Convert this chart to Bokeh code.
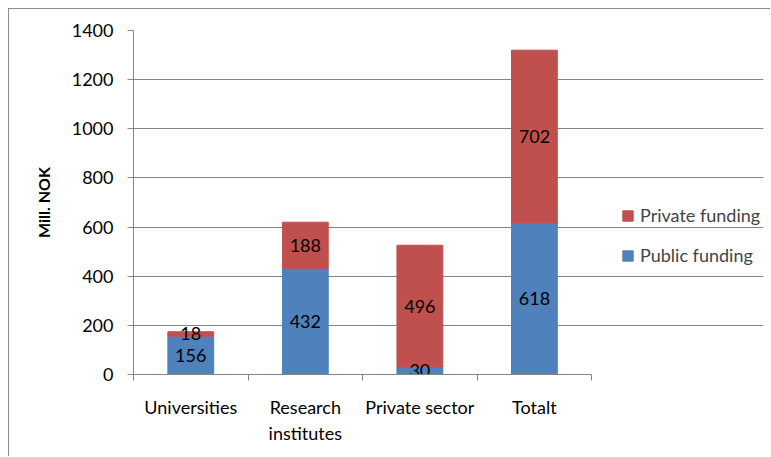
from bokeh.plotting import figure
from bokeh.models import (ColumnDataSource, Range1d, LinearAxis,
                          FixedTicker, Legend, LegendItem)
from bokeh.core.properties import value
from bokeh.embed import file_html
from bokeh.resources import INLINE

categories = ["Universities", "Research\ninstitutes", "Private sector", "Totalt"]
public_funding = [156, 432, 30, 618]
private_funding = [18, 188, 496, 702]
y_ticks = [0, 200, 400, 600, 800, 1000, 1200, 1400]
series_names = ["Public funding", "Private funding"]
colors = ["#4F81BD", "#C0504D"]

FONT = "Lato"
FS = "18px"
GRAY = "#868686"

n = len(categories)
centers = [i + 0.5 for i in range(n)]
view_end = n + 1.5  # extra room on the right of the plot area for the legend

src = ColumnDataSource(dict(
    x=centers,
    pub=public_funding,
    priv=private_funding,
    pub_mid=[v / 2 for v in public_funding],
    priv_mid=[a + b / 2 for a, b in zip(public_funding, private_funding)],
    pub_lbl=[str(v) for v in public_funding],
    priv_lbl=[str(v) for v in private_funding],
))

p = figure(width=762, height=448,
           x_range=Range1d(0, view_end), y_range=Range1d(0, 1400),
           output_backend="svg", toolbar_location=None,
           x_axis_location=None,
           min_border_left=124, min_border_right=8,
           min_border_top=21, min_border_bottom=83)
p.styles = {"border-left": "1px solid #8c8c8c", "border-top": "1px solid #8c8c8c",
            "margin-left": "8px", "margin-top": "8px"}
p.outline_line_color = None
p.background_fill_color = "white"
p.border_fill_color = "white"

tick_axis = LinearAxis(ticker=FixedTicker(ticks=list(range(n + 1))),
                       bounds=(0, n),
                       major_label_overrides={i: "" for i in range(n + 1)},
                       major_label_text_font_size="0px",
                       axis_line_color=GRAY, major_tick_line_color=GRAY,
                       major_tick_in=0, major_tick_out=6,
                       minor_tick_line_color=None, major_label_standoff=0)
p.add_layout(tick_axis, "below")
cat_axis = LinearAxis(ticker=FixedTicker(ticks=centers),
                      major_label_overrides={c: lbl for c, lbl in zip(centers, categories)},
                      axis_line_color=None, major_tick_line_color=None,
                      minor_tick_line_color=None,
                      major_label_text_font=FONT, major_label_text_font_size=FS,
                      major_label_text_color="black",
                      major_label_standoff=9)
p.add_layout(cat_axis, "below")

p.yaxis.ticker = FixedTicker(ticks=y_ticks)
p.yaxis.axis_line_color = GRAY
p.yaxis.major_tick_line_color = GRAY
p.yaxis.major_tick_in = 0
p.yaxis.major_tick_out = 6
p.yaxis.minor_tick_line_color = None
p.yaxis.major_label_text_font = FONT
p.yaxis.major_label_text_font_size = FS
p.yaxis.major_label_text_color = "black"
p.yaxis.major_label_standoff = 14
p.yaxis.axis_label = "Mill. NOK"
p.yaxis.axis_label_text_font = FONT
p.yaxis.axis_label_text_font_style = "bold"
p.yaxis.axis_label_text_font_size = "16px"
p.yaxis.axis_label_text_color = "black"
p.yaxis.axis_label_standoff = 16

p.xgrid.visible = False
p.ygrid.ticker = FixedTicker(ticks=y_ticks)
p.ygrid.grid_line_color = GRAY
p.ygrid.bounds = (0, n)

rs = p.vbar_stack(["pub", "priv"], x="x", width=0.4, color=colors, source=src)

for ycol, tcol in (("pub_mid", "pub_lbl"), ("priv_mid", "priv_lbl")):
    p.text(x="x", y=ycol, text=tcol, source=src, text_align="center",
           text_baseline="middle", text_font=value(FONT), text_font_size=FS,
           text_color="black")

legend = Legend(items=[LegendItem(label=series_names[1], renderers=[rs[1]]),
                       LegendItem(label=series_names[0], renderers=[rs[0]])],
                location=(488, 108), padding=0, margin=0, border_line_color=None,
                background_fill_alpha=0, label_text_font=FONT, label_text_font_size=FS,
                glyph_width=13, glyph_height=13, label_height=20, spacing=18,
                label_standoff=6)
p.add_layout(legend, "center")

open("out.html", "w").write(file_html(p, INLINE))
